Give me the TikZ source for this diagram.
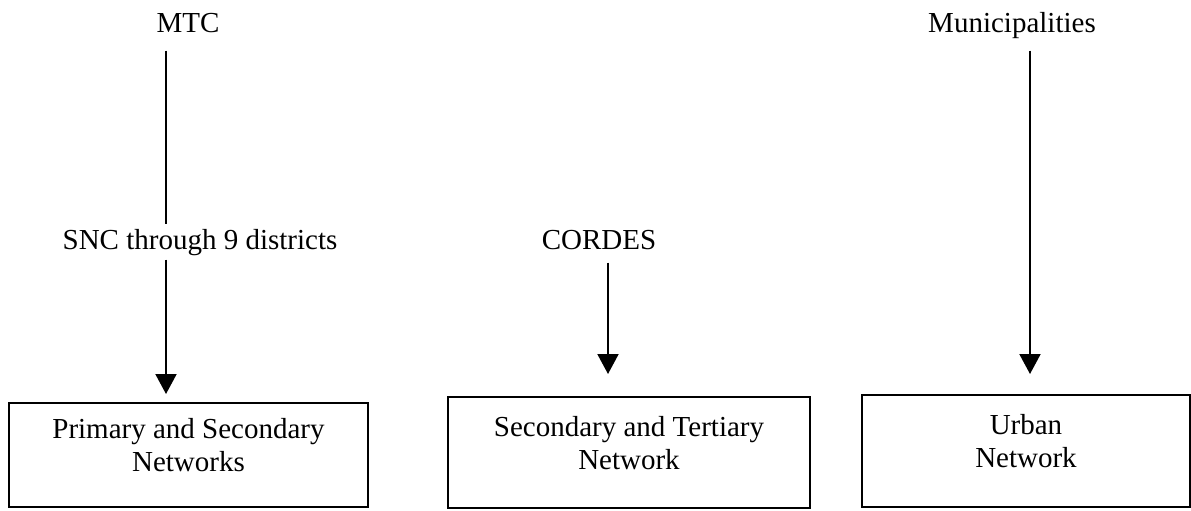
\documentclass[tikz,border=0pt]{standalone}
\usepackage{fontspec}
\setmainfont{Liberation Serif}
\usepackage{tikz}
\usetikzlibrary{positioning, arrows.meta}

\tikzset{
    lbl/.style={anchor=base, inner sep=2pt},
    netbox/.style={rectangle, draw=black, line width=1pt, align=center, inner sep=0pt, text depth=10pt},
    conn/.style={line width=1pt},
    arr/.style={conn, -{Triangle[length=10pt, width=10.5pt]}}
}

\begin{document}
\begin{tikzpicture}[x=0.5pt, y=-0.5pt]
        \useasboundingbox (0, 0) rectangle (1191, 510);
        \fontsize{14.5}{16.5}\selectfont

        \node (mtc) [lbl] at (188, 32) {MTC};
        \node (snc) [lbl] at (200, 249) {SNC through 9 districts};
        \node (cordes) [lbl] at (599, 249) {CORDES};
        \node (muni) [lbl] at (1012, 32) {Municipalities};

        \node (prim) [netbox, minimum width=179.5pt, minimum height=52pt] at (188.5, 455) {Primary and Secondary\\Networks};
        \node (sec) [netbox, minimum width=181pt, minimum height=55.5pt] at (629, 452.5) {Secondary and Tertiary\\Network};
        \node (urb) [netbox, minimum width=164pt, minimum height=56pt] at (1026, 451) {Urban\\Network};

        \coordinate (x1) at (166, 0);
        \coordinate (x2) at (608, 0);
        \coordinate (x3) at (1030, 0);

        \draw [conn, shorten <=7pt] (x1 |- mtc.south) -- (x1 |- snc.north);
        \draw [arr, shorten >=4pt] (x1 |- snc.south) -- (x1 |- prim.north);
        \draw [arr, shorten <=4.5pt, shorten >=11pt] (x2 |- cordes.south) -- (x2 |- sec.north);
        \draw [arr, shorten <=4pt, shorten >=10pt] (x3 |- muni.south) -- (x3 |- urb.north);
    \end{tikzpicture}
\end{document}
